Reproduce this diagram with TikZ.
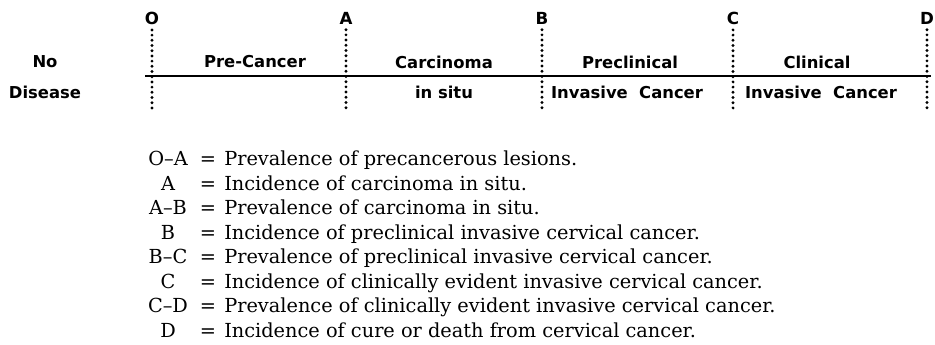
\documentclass[tikz,border=0pt]{standalone}
\usepackage{fontspec}
\setmainfont{DejaVu Serif}
\newfontfamily\labfont{DejaVu Sans}
\begin{document}
\begin{tikzpicture}[x=0.75pt,y=-0.75pt,
  dotline/.style={line width=2.4pt, line cap=round, dash pattern=on 0pt off 3.9pt},
  axisline/.style={line width=1.8pt},
  marklabel/.style={font=\labfont\bfseries\fontsize{12.5}{14}\selectfont, inner sep=0pt},
  stage/.style={font=\labfont\bfseries\fontsize{12.3}{14}\selectfont, inner sep=0pt},
  legkey/.style={font=\fontsize{14.5}{17}\selectfont, inner sep=0pt, anchor=base},
  legeq/.style={font=\fontsize{14.5}{17}\selectfont, inner sep=0pt, anchor=base},
  legtext/.style={font=\fontsize{14.5}{17}\selectfont, inner sep=0pt, anchor=base west}]
\useasboundingbox (0,0) rectangle (935,344);

% boundary letters
\node[marklabel] (O) at (152,18) {O};
\node[marklabel] (A) at (346,18) {A};
\node[marklabel] (B) at (542,18) {B};
\node[marklabel] (C) at (733,18) {C};
\node[marklabel] (D) at (927,18) {D};
\coordinate (Ob) at (152,108);
\coordinate (Ab) at (346,108);
\coordinate (Bb) at (542,108);
\coordinate (Cb) at (733,108);
\coordinate (Db) at (927,108);
\foreach \n in {O,A,B,C,D}{
  \draw[dotline] ([yshift=-4pt]\n.south) -- (\n b);
}

% axis
\coordinate (Lend) at (145,76);
\coordinate (Rend) at (931,76);
\draw[axisline] (Lend) -- (Rend);

% left label
\node[stage] (no) at (45,62) {No};
\node[stage] (dis) at (45,92) {Disease};

% stage labels
\node[stage] (pre) at (255,62) {Pre-Cancer};
\node[stage] (car) at (444,62) {Carcinoma};
\node[stage] (cis) at (444,92) {in situ};
\node[stage] (pcl) at (630,62) {Preclinical};
\node[stage] (pinv) at (627,92) {Invasive\ \ Cancer};
\node[stage] (cl) at (817,62) {Clinical};
\node[stage] (cinv) at (821,92) {Invasive\ \ Cancer};

% legend
\foreach \k/\t [count=\i from 0] in {
  O--A/Prevalence of precancerous lesions.,
  A/Incidence of carcinoma in situ.,
  A--B/Prevalence of carcinoma in situ.,
  B/Incidence of preclinical invasive cervical cancer.,
  B--C/Prevalence of preclinical invasive cervical cancer.,
  C/Incidence of clinically evident invasive cervical cancer.,
  C--D/Prevalence of clinically evident invasive cervical cancer.,
  D/Incidence of cure or death from cervical cancer.}{
  \node[legkey] (k\i) at (168,{165.5+24.5*\i}) {\k};
  \node[legeq] (e\i) at (208,{165.5+24.5*\i}) {=};
  \node[legtext] (t\i) at (224,{165.5+24.5*\i}) {\t};
}
\end{tikzpicture}
\end{document}
